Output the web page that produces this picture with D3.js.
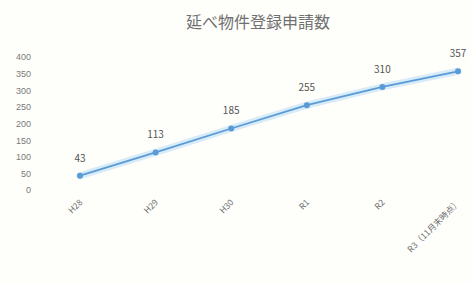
<!DOCTYPE html>
<html>
<head>
<meta charset="utf-8">
<script src="https://cdn.jsdelivr.net/npm/d3@7"></script>
<style>
  body { margin: 0; background: #fefefb; }
  svg { font-family: "Noto Sans CJK JP", "Noto Sans", sans-serif; }
  .axis path, .axis line { display: none; }
  .axis text { fill: #7a7a7a; font-size: 9px; }
</style>
</head>
<body>
<svg width="471" height="284"></svg>
<script>
const title = "延べ物件登録申請数";
const categories = ["H28", "H29", "H30", "R1", "R2", "R3（11月末時点）"];
const values = [43, 113, 185, 255, 310, 357];
const yTicks = [0, 50, 100, 150, 200, 250, 300, 350, 400];

const svg = d3.select('svg');

// scales fitted to the plot area of the reference
const x = d3.scalePoint()
    .domain(categories)
    .range([80, 458]);
const y = d3.scaleLinear()
    .domain([0, 400])
    .range([190, 57]);

svg.append('text')
    .attr('x', 258)
    .attr('y', 28)
    .attr('text-anchor', 'middle')
    .attr('fill', '#707070')
    .attr('font-size', 16)
    .text(title);

svg.append('g')
    .attr('class', 'axis')
    .attr('transform', 'translate(31,0)')
    .call(d3.axisLeft(y).tickValues(yTicks).tickSize(0).tickPadding(0));

// category labels, rotated like the spreadsheet chart
svg.append('g')
    .selectAll('text')
    .data(categories)
    .enter().append('text')
    .attr('transform', d => `translate(${x(d) + 3},${203}) rotate(-45)`)
    .attr('text-anchor', 'end')
    .attr('fill', '#6e6e6e')
    .attr('font-size', 8.5)
    .text(d => d);

const line = d3.line()
    .x((d, i) => x(categories[i]))
    .y(d => y(d));

// soft glow under the line
svg.append('path')
    .datum(values)
    .attr('d', line)
    .attr('fill', 'none')
    .attr('stroke', '#d7ebf8')
    .attr('stroke-width', 7)
    .attr('stroke-linecap', 'round');

svg.append('path')
    .datum(values)
    .attr('d', line)
    .attr('fill', 'none')
    .attr('stroke', '#5b9bd5')
    .attr('stroke-width', 1.8);

svg.append('g')
    .selectAll('circle')
    .data(values)
    .enter().append('circle')
    .attr('cx', (d, i) => x(categories[i]))
    .attr('cy', d => y(d))
    .attr('r', 3)
    .attr('fill', '#5b9bd5');

svg.append('g')
    .selectAll('text')
    .data(values)
    .enter().append('text')
    .attr('x', (d, i) => x(categories[i]))
    .attr('y', d => y(d) - 14)
    .attr('text-anchor', 'middle')
    .attr('fill', '#555')
    .attr('font-size', 10)
    .text(d => d);
</script>
</body>
</html>
